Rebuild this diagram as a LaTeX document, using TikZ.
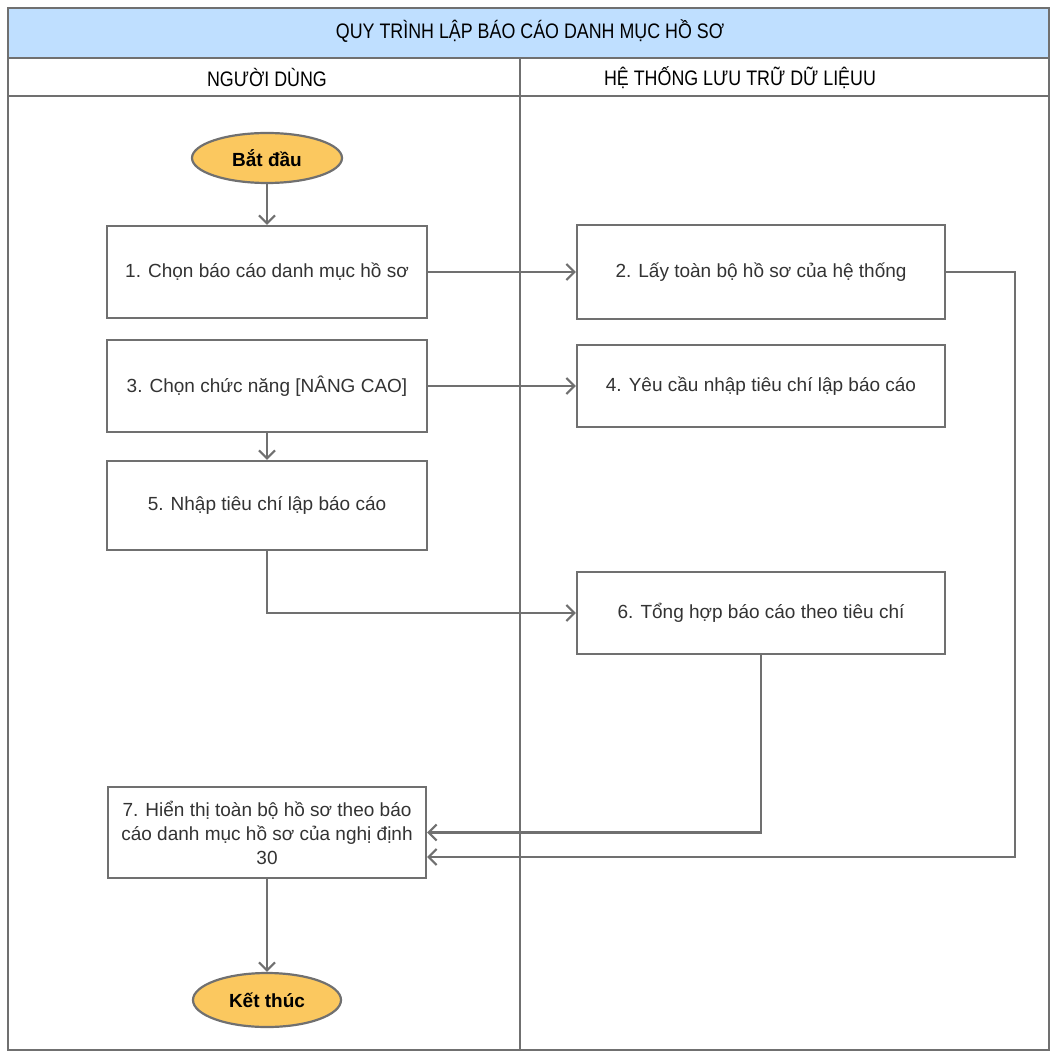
\documentclass[tikz,border=0pt]{standalone}
\usepackage{fontspec}
\setmainfont{Liberation Sans}
\newfontfamily\narrowfont[FakeStretch=0.85]{Liberation Sans}
\usetikzlibrary{arrows.meta,shapes.geometric}
\definecolor{linegray}{HTML}{707070}
\definecolor{textgray}{HTML}{333333}
\definecolor{headblue}{HTML}{BFDFFF}
\definecolor{termorange}{HTML}{FBC85F}
\tikzset{
    stepbox/.style={draw=linegray, line width=1.1pt, fill=white, text=textgray,
        font=\fontsize{9.5}{12}\selectfont, align=center, inner sep=2pt},
    terminal/.style={ellipse, draw=linegray, line width=1.1pt, fill=termorange,
        font=\bfseries\fontsize{9.5}{12}\selectfont, inner sep=0pt},
    flow/.style={draw=linegray, line width=1.1pt, -{Straight Barb[length=4pt,width=8pt]}},
    lanetitle/.style={font=\narrowfont\fontsize{10.5}{12}\selectfont, text=black}
}
\begin{document}
\begin{tikzpicture}[x=0.5pt, y=-0.5pt]
    \useasboundingbox (0,0) rectangle (1051,1053);

    % Khung va tieu de
    \fill[headblue] (8,8) rectangle (1049,58);
    \draw[linegray, line width=1.1pt] (8,8) rectangle (1049,1050);
    \draw[linegray, line width=1.1pt] (8,58) -- (1049,58);
    \draw[linegray, line width=1.1pt] (8,96) -- (1049,96);
    \draw[linegray, line width=1.1pt] (520,58) -- (520,1050);
    \node[lanetitle] (title) at (530,31) {QUY TRÌNH LẬP BÁO CÁO DANH MỤC HỒ SƠ};
    \node[lanetitle] (laneuser) at (267,78) {NGƯỜI DÙNG};
    \node[lanetitle] (lanesys) at (740,78) {HỆ THỐNG LƯU TRỮ DỮ LIỆUU};

    % Cac buoc
    \node[terminal, minimum width=75pt, minimum height=25pt] (start) at (267,158) {Bắt đầu};
    \node[stepbox, minimum width=160pt, minimum height=46pt] (s1) at (267,272) {1. Chọn báo cáo danh mục hồ sơ};
    \node[stepbox, minimum width=184pt, minimum height=47pt] (s2) at (761,272) {2. Lấy toàn bộ hồ sơ của hệ thống};
    \node[stepbox, minimum width=160pt, minimum height=46pt] (s3) at (267,386) {3. Chọn chức năng [NÂNG CAO]};
    \node[stepbox, minimum width=184pt, minimum height=41pt] (s4) at (761,386) {4. Yêu cầu nhập tiêu chí lập báo cáo};
    \node[stepbox, minimum width=160pt, minimum height=44.5pt] (s5) at (267,505.5) {5. Nhập tiêu chí lập báo cáo};
    \node[stepbox, minimum width=184pt, minimum height=41pt] (s6) at (761,613) {6. Tổng hợp báo cáo theo tiêu chí};
    \node[stepbox, minimum width=159pt, minimum height=45.5pt] (s7) at (267,832.5)
        {7. Hiển thị toàn bộ hồ sơ theo báo\\cáo danh mục hồ sơ của nghị định\\30};
    \node[terminal, minimum width=74pt, minimum height=27pt] (stop) at (267,1000) {Kết thúc};

    % Duong noi
    \coordinate (loop) at (1015,857);
    \draw[flow] (start) -- (s1);
    \draw[flow] (s1) -- (s2);
    \draw[flow] (s3) -- (s4);
    \draw[flow] (s3) -- (s5);
    \draw[flow] (s5.south) |- (s6.west);
    \draw[flow] (s6.south) |- (s7.east);
    \draw[flow] (s2.east) -| (loop) -- (s7.east |- loop);
    \draw[flow] (s7) -- (stop);
\end{tikzpicture}
\end{document}
